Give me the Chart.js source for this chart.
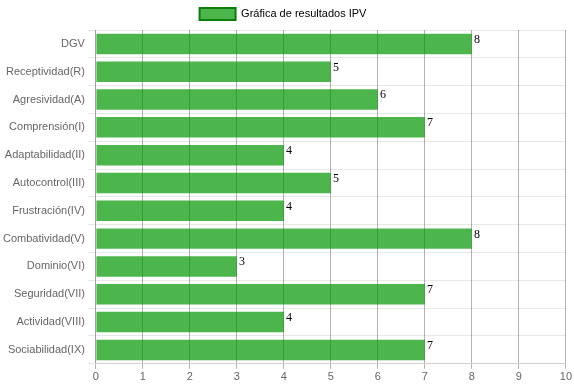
<!DOCTYPE html>
<html>
<head>
<meta charset="utf-8">
<script src="https://cdn.jsdelivr.net/npm/chart.js@4/dist/chart.umd.min.js"></script>
<style>
  html, body { margin: 0; padding: 0; background: #fff; }
  #wrap { width: 574px; height: 386px; }
</style>
</head>
<body>
<div id="wrap"><canvas id="chart"></canvas></div>
<script>
// ─── Data ─────────────────────────────────────────────────────────────────────
const categories = [
    'DGV', 'Receptividad(R)', 'Agresividad(A)', 'Comprensión(I)',
    'Adaptabilidad(II)', 'Autocontrol(III)', 'Frustración(IV)', 'Combatividad(V)',
    'Dominio(VI)', 'Seguridad(VII)', 'Actividad(VIII)', 'Sociabilidad(IX)',
];
const scores = [8, 5, 6, 7, 4, 5, 4, 8, 3, 7, 4, 7];
const seriesLabel = 'Gráfica de resultados IPV';
const xTicks = [0, 1, 2, 3, 4, 5, 6, 7, 8, 9, 10];

// ─── Value labels at bar ends ─────────────────────────────────────────────────
const valueLabels = {
    id: 'valueLabels',
    afterDatasetsDraw(chart) {
        const { ctx } = chart;
        const meta = chart.getDatasetMeta(0);
        ctx.save();
        ctx.font = "12px 'Liberation Serif'";
        ctx.fillStyle = '#000';
        ctx.textAlign = 'left';
        ctx.textBaseline = 'top';
        meta.data.forEach((bar, i) => {
            ctx.fillText(String(scores[i]), bar.x + 2, bar.y - bar.height / 2);
        });
        ctx.restore();
    },
};

Chart.defaults.font.family = "'Liberation Sans', Arial, sans-serif";
Chart.defaults.color = '#666';

new Chart(document.getElementById('chart'), {
    type: 'bar',
    data: {
        labels: categories,
        datasets: [
            {
                label: seriesLabel,
                data: scores,
                backgroundColor: 'rgba(0,150,0,0.7)',
                borderColor: '#0a7d0a',
                borderWidth: 0,
                barPercentage: 0.92,
            },
        ],
    },
    options: {
        indexAxis: 'y',
        responsive: true,
        maintainAspectRatio: false,
        animation: false,
        layout: { padding: { right: 8 } },
        plugins: {
            legend: {
                labels: {
                    font: { size: 11 },
                    boxWidth: 36,
                    boxHeight: 12,
                    padding: 8,
                    generateLabels: chart => [{
                        text: seriesLabel,
                        fillStyle: 'rgba(0,150,0,0.7)',
                        strokeStyle: '#0a7d0a',
                        lineWidth: 2,
                        datasetIndex: 0,
                    }],
                },
            },
            tooltip: { enabled: false },
        },
        scales: {
            x: {
                min: 0,
                max: 10,
                afterBuildTicks: axis => { axis.ticks = xTicks.map(v => ({ value: v })); },
                ticks: { font: { size: 11 }, padding: 2 },
                grid: { color: 'rgba(0,0,0,0.3)', tickLength: 5 },
            },
            y: {
                ticks: { font: { size: 11 } },
                grid: { color: 'rgba(0,0,0,0.09)' },
            },
        },
    },
    plugins: [valueLabels],
});
</script>
</body>
</html>
